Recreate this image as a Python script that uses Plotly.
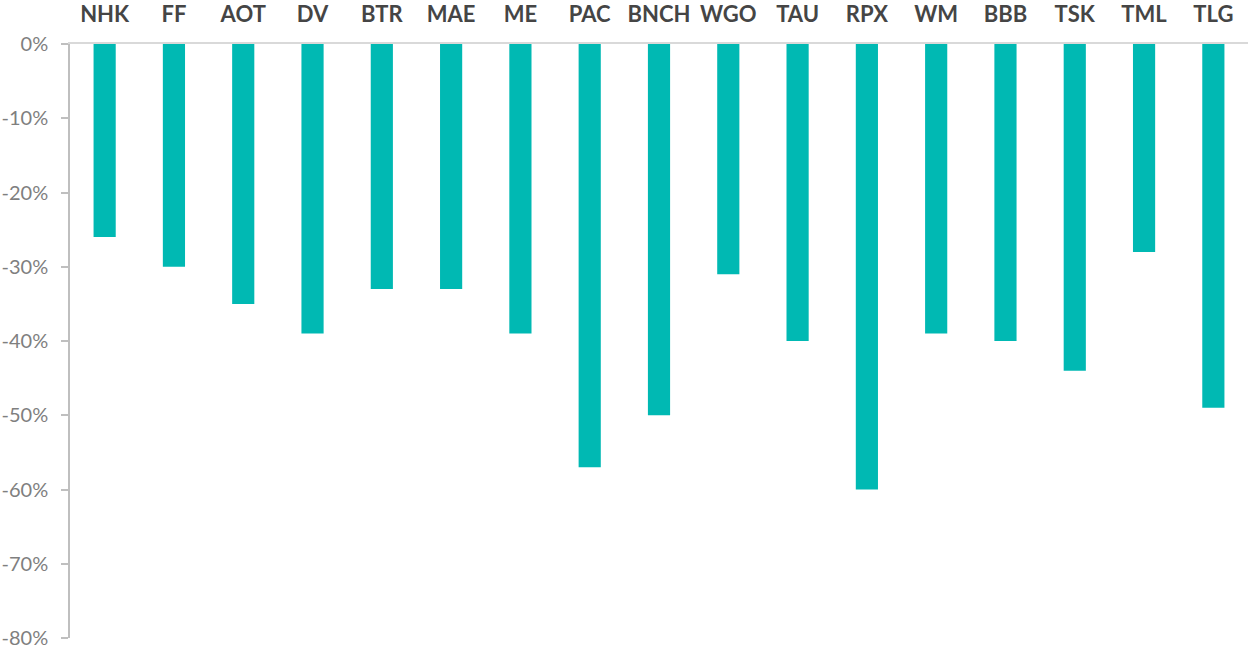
import plotly.graph_objects as go

categories = ["NHK", "FF", "AOT", "DV", "BTR", "MAE", "ME", "PAC", "BNCH", "WGO",
              "TAU", "RPX", "WM", "BBB", "TSK", "TML", "TLG"]
values = [-26, -30, -35, -39, -33, -33, -39, -57, -50, -31,
          -40, -60, -39, -40, -44, -28, -49]
tick_vals = [0, -10, -20, -30, -40, -50, -60, -70, -80]
tick_text = [f"{v}%" for v in tick_vals]

fig = go.Figure(go.Bar(
    x=categories, y=values,
    marker=dict(color="#00B9B3", line=dict(width=0)),
    width=0.32,
))

fig.update_layout(
    width=1248, height=652,
    margin=dict(l=70, r=0, t=44, b=14),
    paper_bgcolor="white", plot_bgcolor="white",
    showlegend=False,
    font=dict(family="Lato", color="#7f7f7f"),
)
fig.update_xaxes(
    side="top", range=[-0.5, 16.5], automargin=False,
    showline=True, linecolor="#d9d9d9", linewidth=1.5,
    showgrid=False, ticks="", ticklabelstandoff=11,
    tickfont=dict(family="Lato", size=22, color="#454545", weight="bold"),
)
fig.update_yaxes(
    range=[-80, 0], tickvals=tick_vals, ticktext=tick_text, automargin=False,
    showgrid=False, zeroline=False,
    showline=True, linecolor="#bfbfbf", linewidth=1.5,
    ticks="outside", ticklen=7, tickcolor="#bfbfbf", tickwidth=1.5,
    ticklabelstandoff=9,
    tickfont=dict(family="Lato", size=20, color="#7f7f7f"),
)
fig.write_html(
    "out.html",
    config={"displayModeBar": False},
    post_script="document.body.style.margin='0';document.body.style.overflow='hidden';",
)
